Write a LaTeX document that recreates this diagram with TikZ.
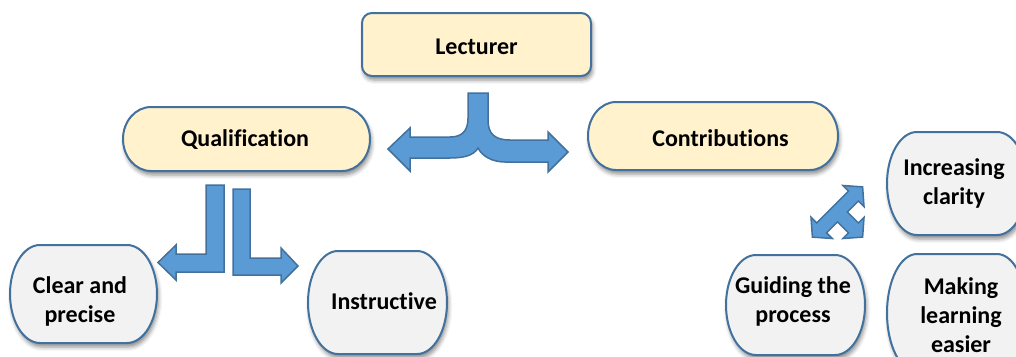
\documentclass[tikz,border=0pt]{standalone}
\usepackage{fontspec}
\setmainfont{Carlito}[Ligatures=NoCommon]
\usetikzlibrary{shadows.blur}
\definecolor{bdr}{HTML}{41719C}
\definecolor{yel}{HTML}{FFF2CC}
\definecolor{gry}{HTML}{F2F2F2}
\definecolor{arr}{HTML}{5B9BD5}
\definecolor{arrb}{HTML}{41719C}
\pgfdeclarelayer{bg}
\pgfsetlayers{bg,main}
\tikzset{
  boxline/.style={draw=bdr, line width=2pt,
    blur shadow={shadow xshift=1.5pt, shadow yshift=-4pt, shadow blur radius=4pt, shadow opacity=45}},
  txt/.style={align=center, inner sep=0pt, font=\bfseries\fontsize{24}{29}\selectfont},
  blockarrow/.style={fill=arr, draw=arrb, line width=1.5pt, line join=miter}
}
\newcommand\bshape[6]{%
  \pgfmathsetmacro\hh{(#4-#2)/2}%
  \path[boxline, fill=#6] (#1+#5,#2) -- (#3-#5,#2)
    arc[start angle=90, end angle=-90, x radius=#5pt, y radius=\hh pt]
    -- (#1+#5,#4)
    arc[start angle=270, end angle=90, x radius=#5pt, y radius=\hh pt] -- cycle;}
\begin{document}
\begin{tikzpicture}[x=1pt, y=-1pt]
\useasboundingbox (0,0) rectangle (1016,356);
\clip (0,0) rectangle (1016,356);
% boxes
\path[boxline, fill=yel, rounded corners=10pt] (362,13) rectangle (591,76);
\bshape{123}{107}{370}{171}{28}{yel}
\bshape{588}{102}{838}{170}{28}{yel}
\bshape{10}{245}{157}{343}{30}{gry}
\bshape{308}{251}{447}{354}{30}{gry}
\bshape{726}{255}{865}{355}{30}{gry}
\bshape{887}{132}{1027}{235}{30}{gry}
\bshape{887}{254}{1027}{372}{30}{gry}
% texts
\node[txt] (lect) at (476.5,47) {Lecturer};
\node[txt] (qual) at (245,140) {Qualification};
\node[txt] (contr) at (720.5,138) {Contributions};
\node[txt] (clear) at (80,301) {Clear and\\precise};
\node[txt] (instr) at (384,301) {Instructive};
\node[txt] (guide) at (793,301) {Guiding the\\process};
\node[txt] (incr) at (954,183) {Increasing\\clarity};
\node[txt] (make) at (961,315) {Making\\learning\\easier};
% split arrow under Lecturer
\path[blockarrow] (468,93) -- (488,93) -- (488,120)
  .. controls (488,134) and (495,140) .. (510,140) -- (548,140) -- (548,132)
  -- (568,152) -- (548,172) -- (548,162) -- (505,162)
  .. controls (492,162) and (482,156) .. (478,148)
  .. controls (474,155) and (465,158) .. (450,158)
  -- (410,158) -- (410,171) -- (388,149) -- (410,128) -- (410,137) -- (450,137)
  .. controls (462,137) and (468,131) .. (468,118) -- cycle;
% arrows under Qualification
\path[blockarrow] (206,185) -- (224,185) -- (224,272) -- (176,272) -- (176,280)
  -- (158,262.5) -- (176,245) -- (176,254) -- (206,254) -- cycle;
\path[blockarrow] (233,189) -- (250,189) -- (250,258) -- (281,258) -- (281,248)
  -- (298,266) -- (281,283) -- (281,275) -- (233,275) -- cycle;
% three-way arrow
\begin{scope}[shift={(837.5,212)}, rotate=45]
\path[blockarrow] (35.5,0) -- (22.5,15) -- (22.5,7) -- (7,7) -- (7,22.5) -- (15,22.5)
  -- (0,35.5) -- (-15,22.5) -- (-7,22.5) -- (-7,7) -- (-22.5,7) -- (-22.5,15)
  -- (-35.5,0) -- (-22.5,-15) -- (-22.5,-7) -- (22.5,-7) -- (22.5,-15) -- cycle;
\end{scope}
\end{tikzpicture}
\end{document}
